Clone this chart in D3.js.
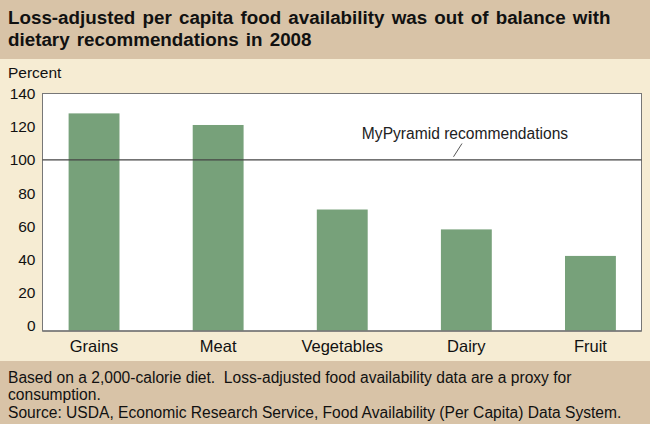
<!DOCTYPE html>
<html><head><meta charset="utf-8">
<script src="https://cdn.jsdelivr.net/npm/d3@7"></script>
<style>
html,body{margin:0;padding:0;background:#f6ecd3;}
svg{display:block;font-family:"Liberation Sans",Arial,sans-serif;}
</style></head>
<body>
<svg id="chart" width="650" height="424"></svg>
<script>
const categories = ["Grains","Meat","Vegetables","Dairy","Fruit"];
const values = [128, 121, 70, 58, 42];
const yTicks = [0,20,40,60,80,100,120,140];
const recommendation = 100;
const titleLines = ["Loss-adjusted per capita food availability was out of balance with","dietary recommendations in 2008"];
const footerLines = ["Based on a 2,000-calorie diet.  Loss-adjusted food availability data are a proxy for","consumption.","Source: USDA, Economic Research Service, Food Availability (Per Capita) Data System."];

(function(){
const svg = d3.select("#chart");
const W = 650, H = 424;
svg.append("rect").attr("width",W).attr("height",H).attr("fill","#f6ecd3");
svg.append("rect").attr("width",W).attr("height",59).attr("fill","#d8c3a7");
svg.append("rect").attr("y",361).attr("width",W).attr("height",H-361).attr("fill","#d8c3a7");

svg.selectAll("text.title").data(titleLines).join("text")
  .attr("class","title").attr("x",8).attr("y",(d,i)=>24+i*22)
  .attr("font-size",18.8).attr("font-weight","bold").attr("fill","#111")
  .style("word-spacing","2px").text(d=>d);

svg.selectAll("text.foot").data(footerLines).join("text")
  .attr("class","foot").attr("x",8).attr("y",(d,i)=>382.5+i*17.7)
  .attr("font-size",15.6).attr("fill","#111").style("white-space","pre").text(d=>d);

const pLeft=42.5, pRight=641.5, pTop=93.5, pBottom=331;
const y = d3.scaleLinear().domain([-3.3,140]).range([pBottom, pTop]);
const x = d3.scaleBand().domain(categories).range([32,652.5]).paddingInner(0.59).paddingOuter(0.295);

svg.append("rect").attr("x",pLeft).attr("y",pTop).attr("width",pRight-pLeft).attr("height",pBottom-pTop)
  .attr("fill","#ffffff").attr("stroke","#777").attr("stroke-width",1);

svg.append("text").attr("x",8).attr("y",78).attr("font-size",15.5).attr("fill","#111").text("Percent");

svg.selectAll("text.ytick").data(yTicks).join("text")
  .attr("class","ytick").attr("x",35.5).attr("y",d=>y(d)).attr("dy","0.36em")
  .attr("text-anchor","end").attr("font-size",15.5).attr("fill","#111").text(d=>d);

svg.selectAll("rect.bar").data(values).join("rect")
  .attr("class","bar")
  .attr("x",(d,i)=>x(categories[i])).attr("width",x.bandwidth())
  .attr("y",d=>y(d)).attr("height",d=>y.range()[0]-y(d))
  .attr("fill","#77a17a");

svg.append("line").attr("x1",pLeft).attr("x2",pRight).attr("y1",pBottom).attr("y2",pBottom)
  .attr("stroke","#777").attr("stroke-width",1.5);

svg.append("line").attr("x1",pLeft).attr("x2",pRight).attr("y1",y(recommendation)).attr("y2",y(recommendation))
  .attr("stroke","#444").attr("stroke-width",1.3);

svg.append("text").attr("x",465).attr("y",138.5).attr("text-anchor","middle")
  .attr("font-size",15.6).attr("fill","#222").text("MyPyramid recommendations");
svg.append("line").attr("x1",462).attr("y1",143.5).attr("x2",453.5).attr("y2",y(recommendation)-3)
  .attr("stroke","#444").attr("stroke-width",0.9);

svg.selectAll("text.cat").data(categories).join("text")
  .attr("class","cat").attr("x",d=>x(d)+x.bandwidth()/2).attr("y",351.5)
  .attr("text-anchor","middle").attr("font-size",16.5).attr("fill","#111").text(d=>d);
})();
</script>
</body></html>
